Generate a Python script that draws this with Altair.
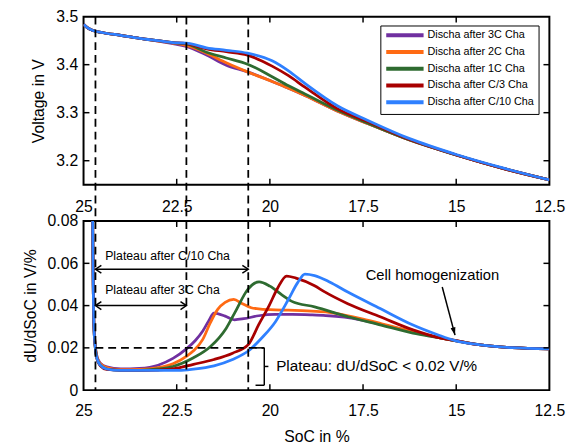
import altair as alt
import pandas as pd

FONT = "Liberation Sans, Arial, sans-serif"

SERIES = ["Discha after 3C Cha", "Discha after 2C Cha", "Discha after 1C Cha",
          "Discha after C/3 Cha", "Discha after C/10 Cha"]
COLORS = ["#7030A0", "#FF6A13", "#2E6B30", "#A80000", "#2F80FF"]

# ---------------- top panel: voltage ----------------
soc_top = [25.0, 24.9, 24.75, 24.5, 24.0, 23.5, 23.0, 22.6, 22.24, 21.7, 21.17,
           20.6, 19.94, 19.5, 19.06, 18.18, 17.4, 16.25, 15.0, 13.75, 12.5]
volt_3c = [3.484, 3.477, 3.471, 3.467, 3.461, 3.455, 3.449, 3.444, 3.438, 3.420, 3.399,
           3.385, 3.365, 3.351, 3.336, 3.303, 3.278, 3.243, 3.212, 3.184, 3.160]
volt_2c = [3.484, 3.477, 3.471, 3.467, 3.461, 3.455, 3.449, 3.445, 3.440, 3.424, 3.404,
           3.385, 3.365, 3.351, 3.336, 3.303, 3.278, 3.243, 3.212, 3.184, 3.160]
volt_1c = [3.484, 3.477, 3.471, 3.467, 3.461, 3.455, 3.450, 3.446, 3.443, 3.426, 3.414,
           3.401, 3.375, 3.356, 3.339, 3.305, 3.279, 3.243, 3.212, 3.184, 3.160]
volt_c3 = [3.484, 3.477, 3.471, 3.467, 3.461, 3.455, 3.450, 3.446, 3.444, 3.433, 3.427,
           3.420, 3.397, 3.377, 3.353, 3.308, 3.282, 3.244, 3.212, 3.184, 3.160]
volt_c10 = [3.484, 3.477, 3.471, 3.467, 3.461, 3.455, 3.450, 3.446, 3.445, 3.435, 3.430,
            3.424, 3.408, 3.387, 3.361, 3.314, 3.285, 3.246, 3.213, 3.185, 3.160]

# ---------------- bottom panel: dU/dSoC ----------------
soc_d_3c = [24.755, 24.74, 24.72, 24.69, 24.64, 24.55, 24.38, 24.0, 23.5, 23.0, 22.6, 22.24,
            22.0, 21.8, 21.65, 21.5, 21.2, 20.95, 20.7, 20.3, 19.86, 19.4, 18.9, 18.5, 18.0,
            17.5, 17.0, 16.5, 16.0, 15.5, 15.0, 14.4, 13.5, 12.5]
dudsoc_3c = [0.080, 0.050, 0.030, 0.022, 0.0160, 0.0128, 0.0110, 0.0100, 0.0103, 0.0118, 0.0150,
             0.0195, 0.0235, 0.0280, 0.0325, 0.0364, 0.0350, 0.0333, 0.0338, 0.0352, 0.0358,
             0.0358, 0.0356, 0.0353, 0.0345, 0.0330, 0.0310, 0.0290, 0.0268, 0.0250, 0.0233,
             0.0215, 0.0201, 0.0195]
soc_d_2c = [24.755, 24.74, 24.72, 24.69, 24.64, 24.55, 24.38, 24.0, 23.5, 23.0, 22.6, 22.24,
            22.05, 21.8, 21.6, 21.4, 21.2, 20.97, 20.75, 20.5, 20.3, 20.0, 19.5, 19.0, 18.5,
            18.0, 17.5, 17.0, 16.5, 16.0, 15.5, 15.0, 14.4, 13.5, 12.5]
dudsoc_2c = [0.080, 0.050, 0.030, 0.022, 0.0158, 0.0125, 0.0107, 0.0097, 0.0098, 0.0106, 0.0125,
             0.0160, 0.0186, 0.0240, 0.0318, 0.0382, 0.0415, 0.0429, 0.0410, 0.0390, 0.0385,
             0.0381, 0.0378, 0.0375, 0.0370, 0.0355, 0.0336, 0.0314, 0.0291, 0.0269, 0.0250,
             0.0233, 0.0215, 0.0201, 0.0195]
soc_d_1c = [24.755, 24.74, 24.72, 24.69, 24.64, 24.55, 24.38, 24.0, 23.5, 23.0, 22.6, 22.05,
            21.6, 21.17, 20.9, 20.6, 20.29, 20.0, 19.67, 19.41, 18.8, 17.9, 17.04, 16.16, 15.5,
            15.0, 14.4, 13.5, 12.5]
dudsoc_1c = [0.080, 0.050, 0.030, 0.021, 0.0150, 0.0118, 0.0100, 0.0094, 0.0094, 0.0100, 0.0112,
             0.0153, 0.0205, 0.0293, 0.0380, 0.0475, 0.0512, 0.0492, 0.0450, 0.0420, 0.0394,
             0.0347, 0.0309, 0.0270, 0.0249, 0.0233, 0.0215, 0.0201, 0.0195]
soc_d_c3 = [24.755, 24.74, 24.72, 24.69, 24.64, 24.55, 24.38, 24.0, 23.5, 23.0, 22.6, 22.05,
            21.5, 21.0, 20.58, 20.3, 20.02, 19.8, 19.55, 19.3, 18.8, 18.54, 17.91, 17.04, 16.16,
            15.5, 15.0, 14.4, 13.5, 12.5]
dudsoc_c3 = [0.080, 0.050, 0.030, 0.021, 0.0148, 0.0115, 0.0098, 0.0094, 0.0093, 0.0095, 0.0100,
             0.0122, 0.0145, 0.0175, 0.0215, 0.0310, 0.0400, 0.0480, 0.0540, 0.0530, 0.0494,
             0.0466, 0.0409, 0.0347, 0.0285, 0.0250, 0.0234, 0.0215, 0.0201, 0.0195]
soc_d_c10 = [24.755, 24.74, 24.72, 24.69, 24.64, 24.55, 24.38, 24.0, 23.3, 22.44, 22.05, 21.5,
             21.0, 20.58, 20.2, 19.85, 19.5, 19.25, 19.06, 18.8, 18.4, 17.91, 17.04, 16.16,
             15.5, 15.03, 14.4, 13.5, 12.5]
dudsoc_c10 = [0.080, 0.050, 0.030, 0.021, 0.0150, 0.0118, 0.0100, 0.0093, 0.0093, 0.0093, 0.0099,
              0.0115, 0.0145, 0.0185, 0.0250, 0.0324, 0.0430, 0.0510, 0.0549, 0.0542, 0.0512,
              0.0464, 0.0386, 0.0308, 0.0262, 0.0234, 0.0215, 0.0201, 0.0195]

# ---------------- annotations ----------------
plateau_ends = [24.68, 22.24, 20.58]
xticks = [22.5, 20, 17.5, 15]
xlabels = [25, 22.5, 20, 17.5, 15, 12.5]
vticks = [3.2, 3.3, 3.4]
vlabels = [3.2, 3.3, 3.4, 3.5]
dticks = [0.02, 0.04, 0.06]
dlabels = [0, 0.02, 0.04, 0.06, 0.08]

arrow_start = [24.68, 24.68]
arrow_end = [20.58, 22.24]
arrow_level = [0.0572, 0.0400]
arrow_text = ["Plateau after C/10 Cha", "Plateau after 3C Cha"]
arrow_text_soc = [24.42, 24.42]
arrow_text_level = [0.0633, 0.0474]

plateau_limit = 0.02
bracket_soc = [20.385, 20.15, 20.04]
bracket_levels = [0.02, 0.0112, 0.0023]
bracket_text = "Plateau: dU/dSoC < 0.02 V/%"
bracket_text_soc = 19.83

homog_text = "Cell homogenization"
homog_text_soc = 17.43
homog_text_level = 0.0544
homog_arrow_soc = [15.375, 15.032]
homog_arrow_level = [0.0488, 0.026]

W, H_TOP, H_BOT = 474, 171, 172
GAP = 37

top_series = [volt_3c, volt_2c, volt_1c, volt_c3, volt_c10]
bot_soc = [soc_d_3c, soc_d_2c, soc_d_1c, soc_d_c3, soc_d_c10]
bot_series = [dudsoc_3c, dudsoc_2c, dudsoc_1c, dudsoc_c3, dudsoc_c10]

xscale = alt.Scale(domain=[12.5, 25], reverse=True, nice=False, zero=False)
vscale = alt.Scale(domain=[3.15, 3.5], nice=False, zero=False)
dscale = alt.Scale(domain=[0, 0.08], nice=False, zero=False)
cscale = alt.Scale(domain=SERIES, range=COLORS)

legend = alt.Legend(title=None, orient="none", legendX=302, legendY=9,
                    symbolType="M-1,0L8.5,0", symbolSize=64, symbolStrokeWidth=4,
                    symbolFillColor="transparent",
                    labelFont=FONT, labelFontSize=11, labelColor="black",
                    strokeColor="black", fillColor="white", padding=4,
                    rowPadding=1, labelOffset=32)

AX = dict(labelFont=FONT, labelFontSize=16, labelColor="black", titleFont=FONT,
          titleFontSize=16, titleFontWeight="normal", titleColor="black",
          domain=False, ticks=False, tickSize=0, grid=False, labelFlush=False)
x_axis_top = alt.Axis(values=xlabels, format=".3~g", title=None, labelPadding=14, **AX)
x_axis_bot = alt.Axis(values=xlabels, format=".3~g", title="SoC in %", labelPadding=13,
                      titlePadding=10, **AX)
v_axis = alt.Axis(values=vlabels, format=".3~g", title="Voltage in V",
                  labelPadding=6, titlePadding=9, **AX)
d_axis = alt.Axis(values=dlabels, format=".3~g", title="dU/dSoC in V/%",
                  labelPadding=6, titlePadding=9, **AX)


def xt(): return alt.X("soc:Q", scale=xscale, axis=x_axis_top)
def xb(): return alt.X("soc:Q", scale=xscale, axis=x_axis_bot)
def yv(): return alt.Y("v:Q", scale=vscale, axis=v_axis)
def yd(): return alt.Y("du:Q", scale=dscale, axis=d_axis)


# ---- top layers
top_layers = []
for name, vals in zip(SERIES, top_series):
    df = pd.DataFrame({"soc": soc_top, "v": vals, "series": name})
    top_layers.append(
        alt.Chart(df).mark_line(strokeWidth=2.8, interpolate="monotone", clip=True).encode(
            x=xt(), y=yv(),
            color=alt.Color("series:N", scale=cscale, legend=legend),
        )
    )

df_vl = pd.DataFrame({"soc": plateau_ends})
top_vlines = alt.Chart(df_vl).mark_rule(strokeDash=[8, 5], strokeWidth=1.8, color="black").encode(
    x=xt(), y=alt.value(0), y2=alt.value(H_TOP + GAP))
df_xt = pd.DataFrame({"soc": xticks})
df_vt = pd.DataFrame({"v": vticks})
top_ticks = [
    alt.Chart(df_xt).mark_rule(strokeWidth=1.5, color="black").encode(
        x=xt(), y=alt.value(H_TOP), y2=alt.value(H_TOP - 6)),
    alt.Chart(df_xt).mark_rule(strokeWidth=1.5, color="black").encode(
        x=xt(), y=alt.value(0), y2=alt.value(6)),
    alt.Chart(df_vt).mark_rule(strokeWidth=1.5, color="black").encode(
        y=yv(), x=alt.value(0), x2=alt.value(6)),
    alt.Chart(df_vt).mark_rule(strokeWidth=1.5, color="black").encode(
        y=yv(), x=alt.value(W), x2=alt.value(W - 6)),
]
top = alt.layer(*top_layers, top_vlines, *top_ticks).properties(width=W, height=H_TOP)

# ---- bottom layers
bot_layers = []
for name, s, vals in zip(SERIES, bot_soc, bot_series):
    df = pd.DataFrame({"soc": s, "du": vals, "series": name})
    bot_layers.append(
        alt.Chart(df).mark_line(strokeWidth=2.8, interpolate="monotone", clip=True).encode(
            x=xb(), y=yd(),
            color=alt.Color("series:N", scale=cscale, legend=None),
        )
    )

bot_vlines = alt.Chart(df_vl).mark_rule(strokeDash=[8, 5], strokeWidth=1.8, color="black").encode(
    x=xb(), y=alt.value(0), y2=alt.value(H_BOT))
df_dt = pd.DataFrame({"du": dticks})
bot_ticks = [
    alt.Chart(df_xt).mark_rule(strokeWidth=1.5, color="black").encode(
        x=xb(), y=alt.value(H_BOT), y2=alt.value(H_BOT - 6)),
    alt.Chart(df_xt).mark_rule(strokeWidth=1.5, color="black").encode(
        x=xb(), y=alt.value(0), y2=alt.value(6)),
    alt.Chart(df_dt).mark_rule(strokeWidth=1.5, color="black").encode(
        y=yd(), x=alt.value(0), x2=alt.value(6)),
    alt.Chart(df_dt).mark_rule(strokeWidth=1.5, color="black").encode(
        y=yd(), x=alt.value(W), x2=alt.value(W - 6)),
]

# horizontal plateau limit line
df_hl = pd.DataFrame({"soc": [plateau_ends[0]], "soc2": [bracket_soc[1]], "du": [plateau_limit]})
hline = alt.Chart(df_hl).mark_rule(strokeDash=[8, 5], strokeWidth=1.8, color="black").encode(
    x=xb(), x2="soc2:Q", y=yd())

# bracket
df_br = pd.DataFrame({
    "soc": [bracket_soc[0], bracket_soc[1], bracket_soc[0], bracket_soc[1]],
    "soc2": [bracket_soc[1], bracket_soc[1], bracket_soc[1], bracket_soc[2]],
    "du": [bracket_levels[0], bracket_levels[0], bracket_levels[2], bracket_levels[1]],
    "du2": [bracket_levels[0], bracket_levels[2], bracket_levels[2], bracket_levels[1]],
})
bracket = alt.Chart(df_br).mark_rule(strokeWidth=1.5, color="black").encode(
    x=xb(), x2="soc2:Q", y=yd(), y2="du2:Q")
df_bt = pd.DataFrame({"soc": [bracket_text_soc], "du": [bracket_levels[1]], "t": [bracket_text]})
bracket_label = alt.Chart(df_bt).mark_text(align="left", baseline="middle", font=FONT,
                                           fontSize=15.5, color="black").encode(
    x=xb(), y=yd(), text="t:N")

# double arrows
df_ar = pd.DataFrame({"soc": arrow_start, "soc2": arrow_end, "du": arrow_level})
arrow_lines = alt.Chart(df_ar).mark_rule(strokeWidth=1.5, color="black").encode(
    x=xb(), x2="soc2:Q", y=yd())
df_al = pd.DataFrame({"soc": arrow_start, "du": arrow_level})
df_arh = pd.DataFrame({"soc": arrow_end, "du": arrow_level})
head_left = alt.Chart(df_al).mark_point(shape="M1.5,-1L0,0L1.5,1", filled=False, size=64,
                                        strokeWidth=1.5, color="black", opacity=1).encode(
    x=xb(), y=yd())
head_right = alt.Chart(df_arh).mark_point(shape="M-1.5,-1L0,0L-1.5,1", filled=False, size=64,
                                          strokeWidth=1.5, color="black", opacity=1).encode(
    x=xb(), y=yd())
df_at = pd.DataFrame({"soc": arrow_text_soc, "du": arrow_text_level, "t": arrow_text})
arrow_labels = alt.Chart(df_at).mark_text(align="left", baseline="middle", font=FONT,
                                          fontSize=12.5, color="black").encode(
    x=xb(), y=yd(), text="t:N")

# cell homogenization
df_ht = pd.DataFrame({"soc": [homog_text_soc], "du": [homog_text_level], "t": [homog_text]})
homog_label = alt.Chart(df_ht).mark_text(align="left", baseline="middle", font=FONT,
                                         fontSize=15, color="black").encode(
    x=xb(), y=yd(), text="t:N")
df_ha = pd.DataFrame({"soc": [homog_arrow_soc[0]], "soc2": [homog_arrow_soc[1]],
                      "du": [homog_arrow_level[0]], "du2": [homog_arrow_level[1]]})
homog_line = alt.Chart(df_ha).mark_rule(strokeWidth=1.5, color="black").encode(
    x=xb(), x2="soc2:Q", y=yd(), y2="du2:Q")
df_hh = pd.DataFrame({"soc": [homog_arrow_soc[1]], "du": [homog_arrow_level[1]]})
homog_head = alt.Chart(df_hh).mark_point(shape="M0,0L-0.5,-1.6L0.5,-1.6Z", filled=True, size=100,
                                         angle=345, color="black", opacity=1).encode(
    x=xb(), y=yd())

bottom = alt.layer(
    *bot_layers, bot_vlines, hline, bracket, bracket_label, arrow_lines, head_left, head_right,
    arrow_labels, homog_line, homog_head, homog_label, *bot_ticks
).properties(width=W, height=H_BOT)

chart = alt.vconcat(top, bottom, spacing=GAP, bounds="flush").properties(
    padding={"left": 21, "top": 4, "right": 5, "bottom": 2}, background="white"
).configure_view(stroke="black", strokeWidth=2)

chart.save("out.html", embed_options={"renderer": "svg", "actions": False})
